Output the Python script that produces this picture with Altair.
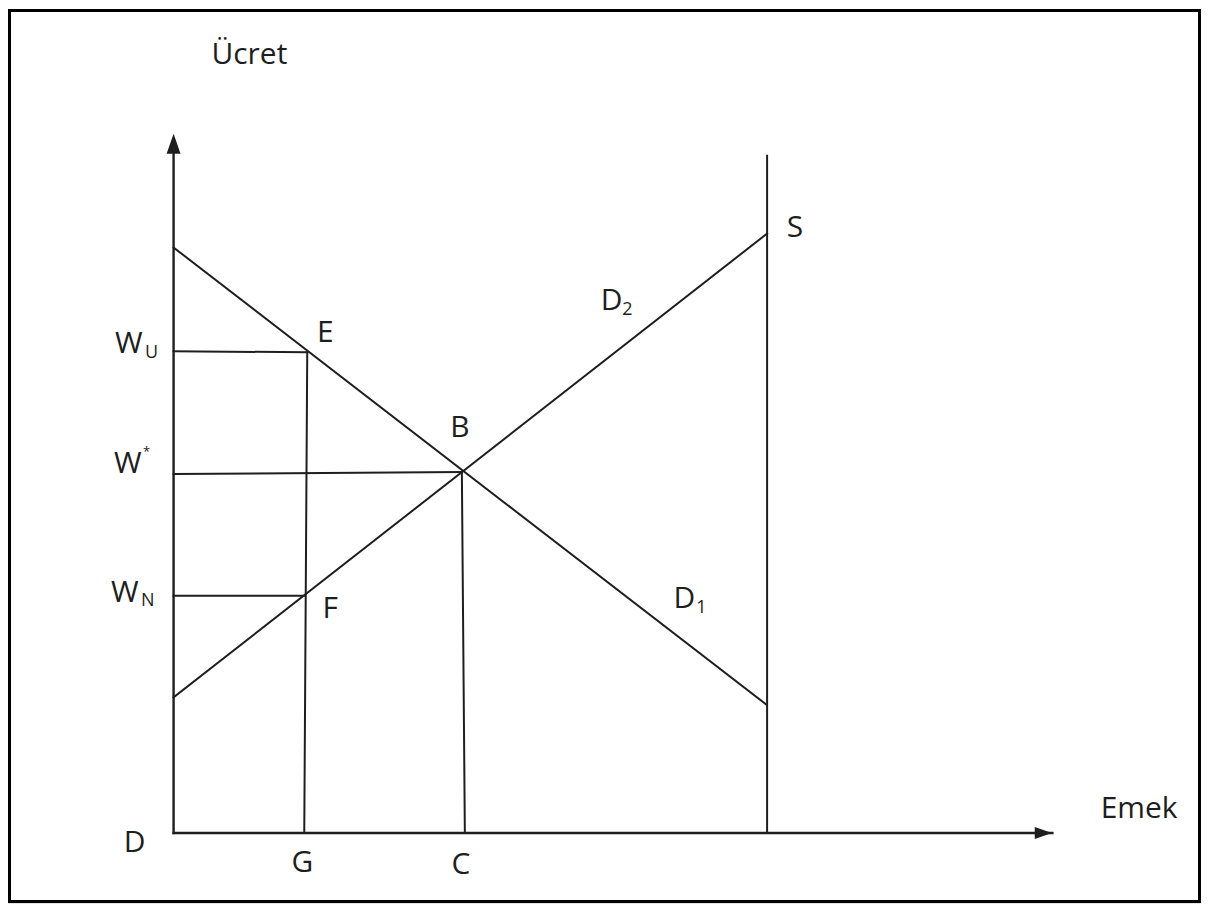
import altair as alt
import pandas as pd

# Diagram coordinates: origin D at (0, 0); x = Emek (labour), y = Ücret (wage)
# ---- line segments ----
seg_x  = [0,   0,   0,   0,   595, 0,   134, 0,   289, 0  ]
seg_y  = [0,   0,   587, 136, 0,   483, 482, 360, 362, 238]
seg_x2 = [881, 0,   594, 595, 595, 134, 131, 289, 292, 131]
seg_y2 = [0,   695, 129, 601, 679, 482, 0,   362, 0,   238]
seg_w  = [2.4, 2.4, 2,   2,   2,   2,   2,   2,   2,   2  ]

# ---- arrow heads ----
arrow_up_x, arrow_up_y = [0], [691]
arrow_right_x, arrow_right_y = [872], [0]

# ---- labels ----
lab_text = ["Ücret", "Emek", "S", "D", "2", "E", "B", "F", "D", "1",
            "W", "U", "W", "*", "W", "N", "D", "G", "C"]
lab_x = [76, 968, 623, 439, 455, 152, 287, 157, 512, 529,
         -45, -22, -46, -27, -49, -26, -39, 129, 288]
lab_y = [771, 15, 598, 524, 519, 492, 397, 216, 226, 221,
         481, 476, 361, 378, 232, 228, -19, -39, -41]
lab_size = [30, 30, 30, 30, 18, 30, 30, 30, 30, 18,
            30, 18, 30, 13, 30, 18, 30, 30, 30]

segs = pd.DataFrame({"x": seg_x, "y": seg_y, "x2": seg_x2, "y2": seg_y2, "w": seg_w})
labels = pd.DataFrame({"t": lab_text, "x": lab_x, "y": lab_y, "s": lab_size})
up = pd.DataFrame({"x": arrow_up_x, "y": arrow_up_y})
right = pd.DataFrame({"x": arrow_right_x, "y": arrow_right_y})

xs = alt.Scale(domain=[-166, 1030], nice=False, zero=False)
ys = alt.Scale(domain=[-70, 826], nice=False, zero=False)
ink = "#1e1e1e"

frame = alt.Chart(pd.DataFrame({"k": [0]})).mark_rect(
    filled=False, stroke="black", strokeWidth=3
).encode(
    x=alt.value(1.5), x2=alt.value(1194.5), y=alt.value(1.5), y2=alt.value(894.5)
)

rules = alt.Chart(segs).mark_rule(color=ink, strokeCap="square").encode(
    x=alt.X("x:Q", scale=xs, axis=None),
    y=alt.Y("y:Q", scale=ys, axis=None),
    x2="x2:Q",
    y2="y2:Q",
    strokeWidth=alt.StrokeWidth("w:Q", scale=None),
)

head_up = alt.Chart(up).mark_point(
    shape="M0,-1L0.7,1L-0.7,1Z", size=400, filled=True, color=ink, opacity=1
).encode(x=alt.X("x:Q", scale=xs), y=alt.Y("y:Q", scale=ys))

head_right = alt.Chart(right).mark_point(
    shape="M1,0L-1,-0.7L-1,0.7Z", size=300, filled=True, color=ink, opacity=1
).encode(x=alt.X("x:Q", scale=xs), y=alt.Y("y:Q", scale=ys))

texts = alt.Chart(labels).mark_text(
    font="Open Sans", color=ink, align="center", baseline="alphabetic"
).encode(
    x=alt.X("x:Q", scale=xs),
    y=alt.Y("y:Q", scale=ys),
    text="t:N",
    size=alt.Size("s:Q", scale=None),
)

chart = (
    alt.layer(frame, rules, head_up, head_right, texts)
    .properties(width=1196, height=896, padding=0, autosize=alt.AutoSizeParams(type="none"))
    .configure_view(strokeWidth=0, fill="white")
    .configure(background="white")
)

chart.save("out.html", embed_options={"renderer": "svg", "actions": False})
